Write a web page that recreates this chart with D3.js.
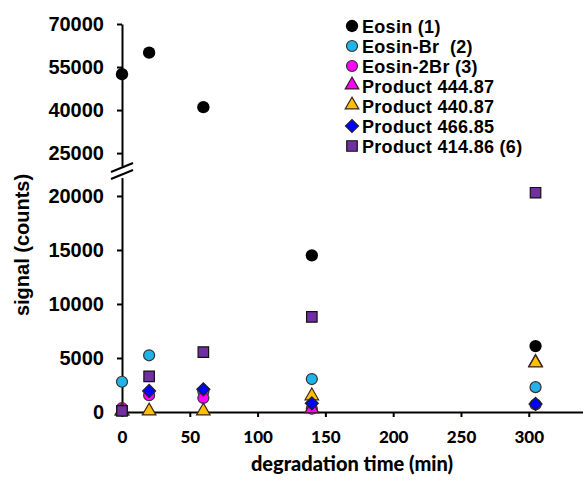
<!DOCTYPE html>
<html>
<head>
<meta charset="utf-8">
<script src="https://cdn.jsdelivr.net/npm/d3@7"></script>
<style>
  html, body { margin: 0; padding: 0; background: #fff; }
  svg { display: block; }
</style>
</head>
<body>
<div id="chart"></div>
<script>
// degradation time (min)
const times = [0, 20, 60, 140, 305];

// signal (counts) per series, null = not plotted
const eosin     = [52500, 60000, 41000, 14500, 6100];
const eosinBr   = [2800, 5250, 1900, 3050, 2300];
const eosin2Br  = [350, 1550, 1300, 300, 700];
const prod44487 = [0, null, null, 200, 4500];
const prod44087 = [0, 0, 0, 1400, 4450];
const prod46685 = [null, 1950, 2100, 800, 750];
const prod41486 = [100, 3300, 5550, 8800, 20300];

const seriesNames = ["Eosin (1)", "Eosin-Br  (2)", "Eosin-2Br (3)", "Product 444.87",
  "Product 440.87", "Product 466.85", "Product 414.86 (6)"];

const xTicks = [0, 50, 100, 150, 200, 250, 300];
const yLowTicks = [0, 5000, 10000, 15000, 20000];
const yHighTicks = [25000, 40000, 55000, 70000];

(function() {
  const W = 583, H = 482;
  const svg = d3.select("#chart").append("svg").attr("width", W).attr("height", H);

  const x = d3.scaleLinear().domain([0, 340]).range([122, 583]);
  // lower and upper segments of the broken y axis
  const yLow = d3.scaleLinear().domain([0, 21700]).range([412, 177.6]);
  const yHigh = d3.scaleLinear().domain([20500, 70000]).range([166, 24]);
  const y = v => v > 21000 ? yHigh(v) : yLow(v);

  const styles = [
    { shape: "circle", fill: "#000", stroke: "#000", size: 120 },
    { shape: "circle", fill: "#1fb3e8", stroke: "#333", size: 95 },
    { shape: "circle", fill: "#ff00ff", stroke: "#333", size: 95 },
    { shape: "triangle", fill: "#ff00ff", stroke: "#3a1a2a", size: 80 },
    { shape: "triangle", fill: "#ffc000", stroke: "#3a2a1a", size: 80 },
    { shape: "diamond", fill: "#0000ff", stroke: "#222", size: 85 },
    { shape: "square", fill: "#7030a0", stroke: "#111", size: 110 }
  ];
  const allSeries = [eosin, eosinBr, eosin2Br, prod44487, prod44087, prod46685, prod41486];

  function symbolPath(st) {
    if (st.shape === "circle") return d3.symbol(d3.symbolCircle, st.size)();
    if (st.shape === "triangle") return d3.symbol(d3.symbolTriangle, st.size)();
    return d3.symbol(d3.symbolSquare, st.size)();
  }
  function symbolTransform(st, px, py) {
    if (st.shape === "diamond") return `translate(${px},${py}) rotate(45)`;
    if (st.shape === "triangle") return `translate(${px},${py - 1})`;
    return `translate(${px},${py})`;
  }

  const axisFont = "'Liberation Sans', Arial, sans-serif";
  const xFont = "Lato, 'Open Sans', sans-serif";

  // Y axis, lower part
  const gLow = svg.append("g").attr("transform", "translate(122,0)")
    .call(d3.axisLeft(yLow).tickValues(yLowTicks).tickSize(5).tickSizeOuter(0).tickPadding(13).tickFormat(d3.format("d")));
  // Y axis, upper part
  const gHigh = svg.append("g").attr("transform", "translate(122,0)")
    .call(d3.axisLeft(yHigh).tickValues(yHighTicks).tickSize(5).tickSizeOuter(0).tickPadding(13).tickFormat(d3.format("d")));
  [gLow, gHigh].forEach(g => {
    g.selectAll("path, line").attr("stroke", "#000").attr("stroke-width", 2);
    g.selectAll("text").style("font-family", axisFont).style("font-weight", "bold")
      .style("font-size", "20px").attr("fill", "#000");
  });

  // axis break marks
  const brk = svg.append("g").attr("stroke", "#000").attr("stroke-width", 2);
  brk.append("line").attr("x1", 111).attr("y1", 172).attr("x2", 133).attr("y2", 163);
  brk.append("line").attr("x1", 111).attr("y1", 179).attr("x2", 133).attr("y2", 170);

  // X axis
  const gx = svg.append("g").attr("transform", `translate(0,${yLow(0)})`)
    .call(d3.axisBottom(x).tickValues(xTicks).tickSize(5).tickSizeOuter(0).tickPadding(14));
  gx.selectAll("path, line").attr("stroke", "#000").attr("stroke-width", 2);
  gx.selectAll("text").style("font-family", xFont).style("font-weight", "900")
    .style("font-size", "17px").attr("fill", "#000");

  // Axis titles
  svg.append("text").attr("transform", "translate(29,245) rotate(-90)")
    .attr("text-anchor", "middle").style("font-family", axisFont).style("font-weight", "bold")
    .style("font-size", "20px").text("signal (counts)");
  svg.append("text").attr("x", 352).attr("y", 471).attr("text-anchor", "middle")
    .style("font-family", xFont).style("font-weight", "900").style("font-size", "20px")
    .text("degradation time (min)");

  // Data markers
  allSeries.forEach((vals, si) => {
    const st = styles[si];
    const pts = times.map((t, i) => ({ t, v: vals[i] })).filter(d => d.v !== null);
    svg.append("g").selectAll("path").data(pts).enter().append("path")
      .attr("d", symbolPath(st))
      .attr("transform", d => symbolTransform(st, x(d.t), y(d.v)))
      .attr("fill", st.fill).attr("stroke", st.stroke)
      .attr("stroke-width", st.shape === "circle" && si === 0 ? 0 : 1.2);
  });

  // Legend
  const leg = svg.append("g");
  seriesNames.forEach((name, i) => {
    const cy = 26 + i * 20;
    const st = styles[i];
    leg.append("path").attr("d", symbolPath(st))
      .attr("transform", symbolTransform(st, 352, cy))
      .attr("fill", st.fill).attr("stroke", st.stroke)
      .attr("stroke-width", i === 0 ? 0 : 1.2);
    leg.append("text").attr("x", 362).attr("y", cy + 6.5)
      .style("font-family", axisFont).style("font-weight", "bold").style("font-size", "18px")
      .style("letter-spacing", "0.3px").style("white-space", "pre").text(name);
  });
})();
</script>
</body>
</html>
